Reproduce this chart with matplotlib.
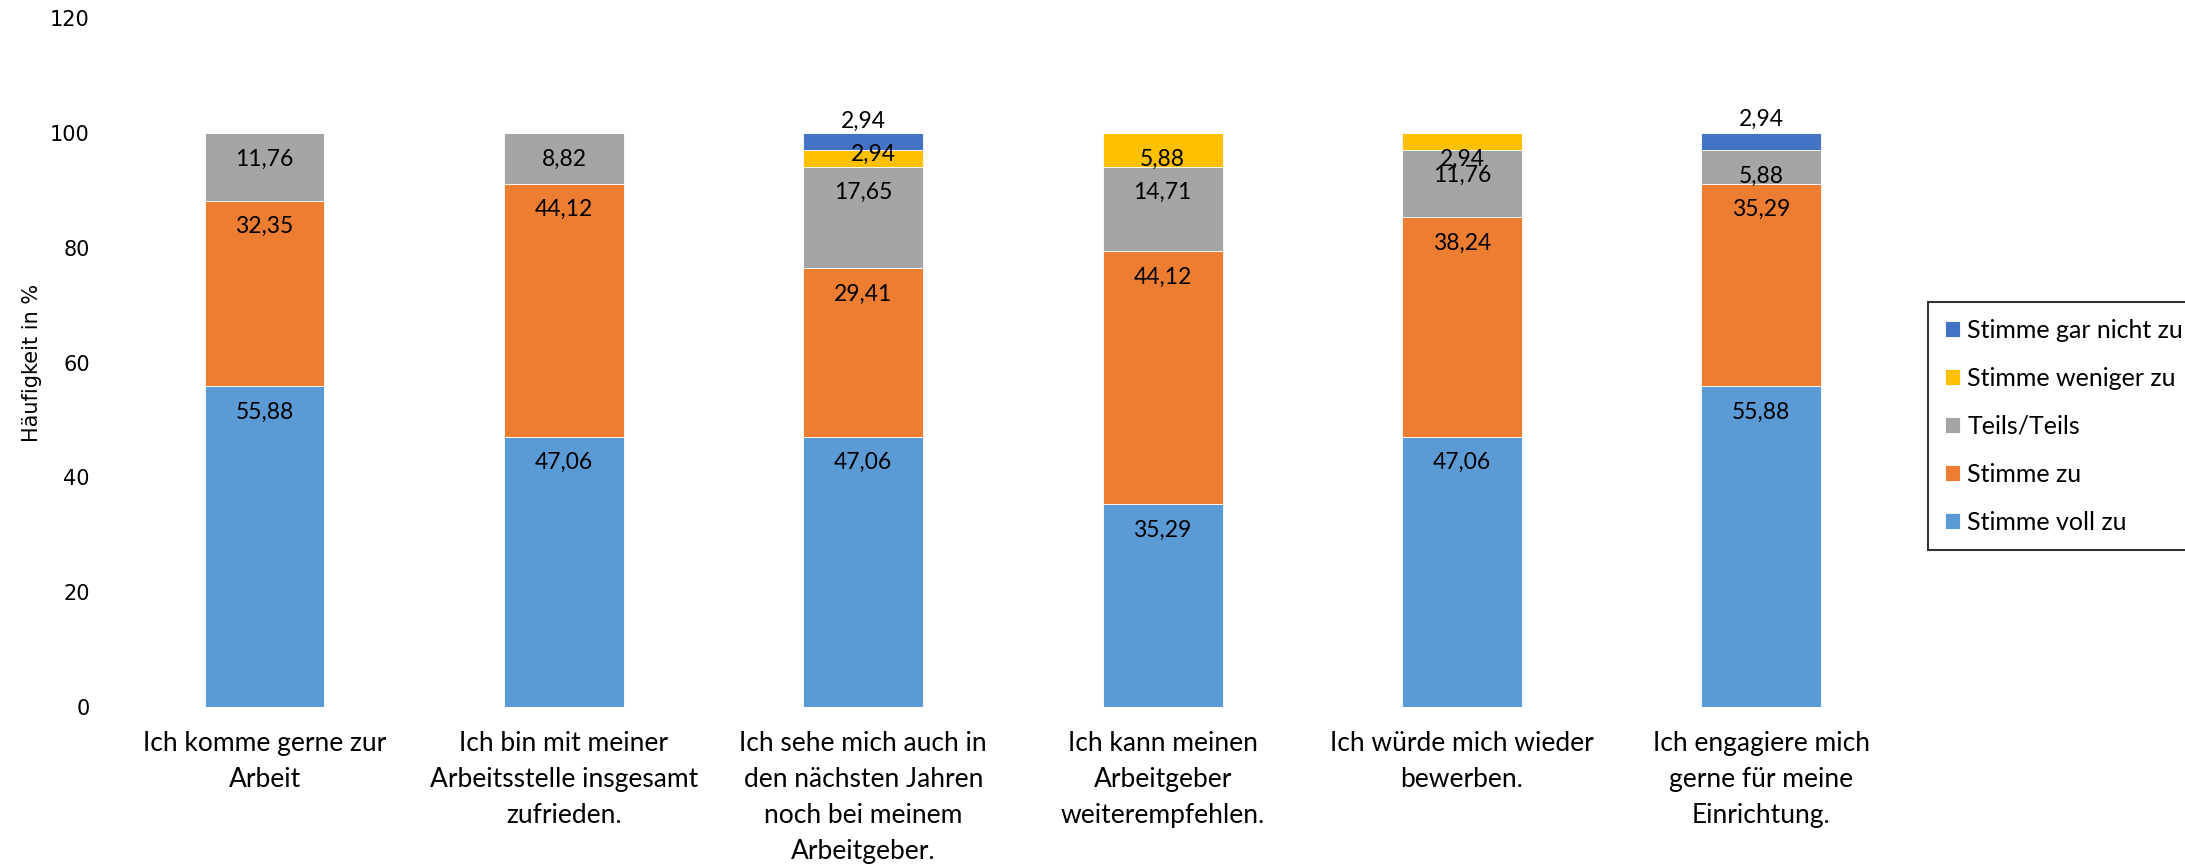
import numpy as np
import matplotlib
matplotlib.use('Agg')
import matplotlib.pyplot as plt

categories = [
    'Ich komme gerne zur\nArbeit',
    'Ich bin mit meiner\nArbeitsstelle insgesamt\nzufrieden.',
    'Ich sehe mich auch in\nden nächsten Jahren\nnoch bei meinem\nArbeitgeber.',
    'Ich kann meinen\nArbeitgeber\nweiterempfehlen.',
    'Ich würde mich wieder\nbewerben.',
    'Ich engagiere mich\ngerne für meine\nEinrichtung.',
]
series_names = ['Stimme voll zu', 'Stimme zu', 'Teils/Teils',
                'Stimme weniger zu', 'Stimme gar nicht zu']
voll_zu = [55.88, 47.06, 47.06, 35.29, 47.06, 55.88]
zu = [32.35, 44.12, 29.41, 44.12, 38.24, 35.29]
teils = [11.76, 8.82, 17.65, 14.71, 11.76, 5.88]
weniger = [0, 0, 2.94, 5.88, 2.94, 0]
gar_nicht = [0, 0, 2.94, 0, 0, 2.94]
colors = ['#5B9BD5', '#ED7D31', '#A5A5A5', '#FFC000', '#4472C4']

# label offsets (pixels) for labels that were moved by hand in the original
moved = {(4, 2): (0, 12), (4, 5): (0, 14), (3, 2): (10, -5)}

plt.rcParams['font.family'] = ['Lato', 'DejaVu Sans']

fig = plt.figure(figsize=(21.85, 8.65), dpi=100)
ax = fig.add_axes([0.0526, 0.1827, 0.822, 0.7963])

x = np.arange(len(categories))
data = [voll_zu, zu, teils, weniger, gar_nicht]
bottom = np.zeros(len(categories))
handles = []
for s, (vals, name, col) in enumerate(zip(data, series_names, colors)):
    vals = np.array(vals)
    b = ax.bar(x, vals, 0.4, bottom=bottom, color=col, label=name,
               edgecolor='white', linewidth=0.6)
    handles.append(b)
    for i, v in enumerate(vals):
        if v <= 0:
            continue
        top = bottom[i] + v
        dx, dy = moved.get((s, i), (0, -26))
        ax.annotate(f'{v:.2f}'.replace('.', ','), xy=(x[i], top),
                    xytext=(dx, dy), textcoords='offset pixels',
                    ha='center', va='center', fontsize=16.5, color='black')
    bottom += vals

ax.set_xlim(-0.5, len(categories) - 0.5)
ax.set_ylim(0, 120)
ax.set_yticks(range(0, 121, 20))
ax.set_xticks(x)
ax.set_xticklabels(categories, fontsize=19, linespacing=1.55, va='top')
for lbl in ax.get_yticklabels():
    lbl.set_fontfamily('DejaVu Sans')
    lbl.set_fontsize(15)
ax.tick_params(axis='y', length=0, pad=18)
ax.tick_params(axis='x', length=0, pad=17)
for sp in ax.spines.values():
    sp.set_visible(False)

fig.text(0.0145, 0.58, 'Häufigkeit in %', rotation=90, fontsize=15,
         family=['Liberation Sans Narrow', 'DejaVu Sans'],
         ha='center', va='center')

leg = fig.legend(handles[::-1], series_names[::-1], loc='upper left',
                 bbox_to_anchor=(0.8826, 0.6505), fontsize=18,
                 frameon=True, fancybox=False, edgecolor='black',
                 handlelength=0.6, handleheight=0.6, handletextpad=0.3,
                 labelspacing=1.0, borderpad=0.65, borderaxespad=0)
leg.get_frame().set_linewidth(1.5)

fig.savefig('out.png', dpi=100)
